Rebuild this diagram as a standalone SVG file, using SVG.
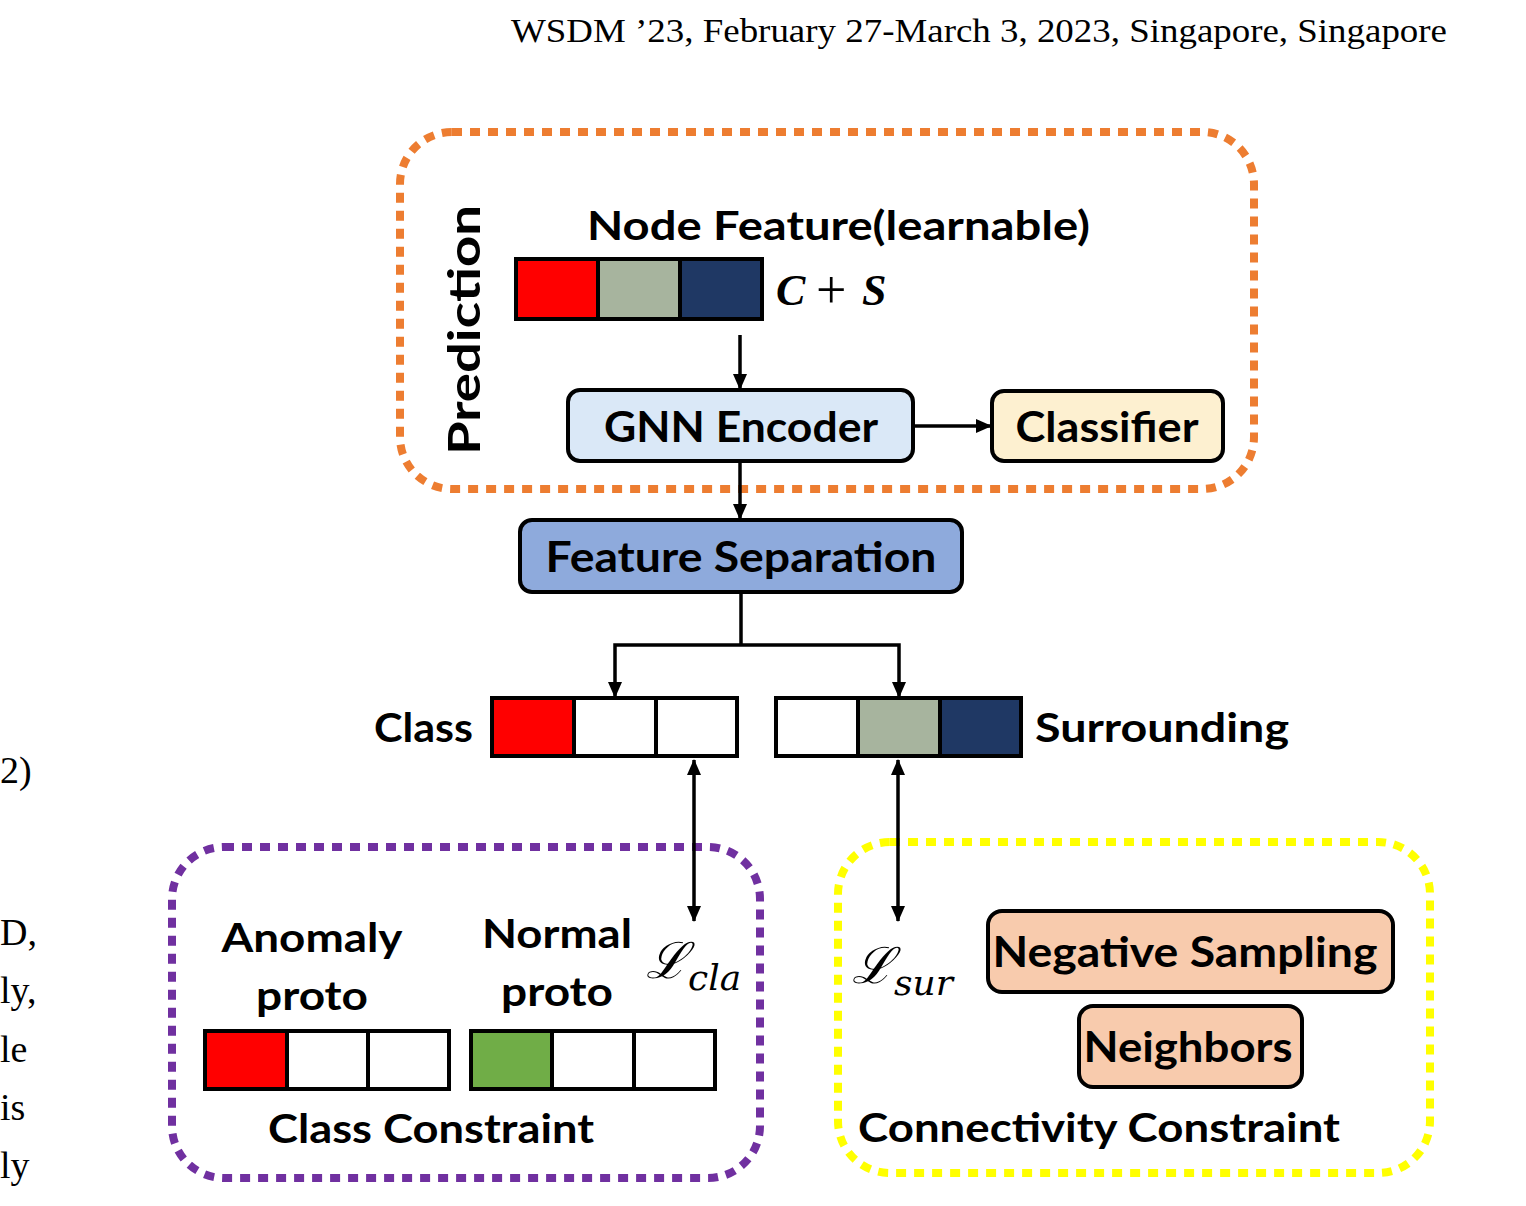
<svg xmlns="http://www.w3.org/2000/svg" width="1526" height="1206" viewBox="0 0 1526 1206">
<style>
.lbl{font-family:Lato,"Open Sans","Liberation Sans",sans-serif;font-weight:bold;font-size:40px;fill:#000}
.big{font-size:42px}
.page{font-family:"Liberation Serif","DejaVu Serif",serif;font-size:38px;fill:#000}
.math{font-family:"DejaVu Serif","Liberation Serif",serif;font-style:italic;fill:#000}
.cs{font-family:"Liberation Serif","DejaVu Serif",serif;font-size:44px;fill:#000}
.box{stroke:#000;stroke-width:4}
.cell{stroke:#000;stroke-width:4}
.conn{stroke:#000;stroke-width:3.5;fill:none}
.dot{fill:none;stroke-width:8;stroke-dasharray:10 8}
</style>
<defs>
<marker id="ah" markerWidth="16" markerHeight="14" refX="15" refY="7" orient="auto-start-reverse" markerUnits="userSpaceOnUse">
<path d="M0,0 L16,7 L0,14 Z" fill="#000"/>
</marker>
</defs>
<rect width="1526" height="1206" fill="#fff"/>

<g id="page-text">
<text class="page" x="511" y="42" style="font-size:33px" textLength="936" lengthAdjust="spacingAndGlyphs">WSDM ’23, February 27-March 3, 2023, Singapore, Singapore</text>
<text class="page" x="0" y="783">2)</text>
<text class="page" x="0" y="945">D,</text>
<text class="page" x="0" y="1003">ly,</text>
<text class="page" x="0" y="1062">le</text>
<text class="page" x="0" y="1120">is</text>
<text class="page" x="0" y="1178">ly</text>
</g>

<g id="prediction-group">
<rect class="dot" x="400" y="132" width="854" height="357" rx="52" stroke="#ed7d31"/>
<text class="lbl" style="font-size:44px" transform="translate(480,455) rotate(-90)" textLength="250" lengthAdjust="spacingAndGlyphs">Prediction</text>
</g>

<g id="node-feature">
<text class="lbl" x="587" y="240" textLength="503" lengthAdjust="spacingAndGlyphs">Node Feature(learnable)</text>
<rect class="cell" x="516" y="259" width="82" height="60" fill="#ff0000"/>
<rect class="cell" x="598" y="259" width="82" height="60" fill="#a7b49e"/>
<rect class="cell" x="680" y="259" width="82" height="60" fill="#1f3864"/>
<text class="cs" x="776" y="305" font-style="italic" font-weight="bold">C</text>
<text class="cs" x="816" y="308" style="font-size:54px">+</text>
<text class="cs" x="862" y="305" font-style="italic" font-weight="bold">S</text>
</g>

<g id="gnn-encoder">
<rect class="box" x="568" y="390" width="345" height="71" rx="12" fill="#dae8f7"/>
<text class="lbl big" x="741" y="442" text-anchor="middle" textLength="274" lengthAdjust="spacingAndGlyphs">GNN Encoder</text>
</g>

<g id="classifier">
<rect class="box" x="992" y="391" width="231" height="70" rx="12" fill="#fdf0d0"/>
<text class="lbl big" x="1107" y="442" text-anchor="middle" textLength="183" lengthAdjust="spacingAndGlyphs">Classifier</text>
</g>

<g id="feature-separation">
<rect class="box" x="520" y="520" width="442" height="72" rx="12" fill="#8eaadc"/>
<text class="lbl big" x="741" y="572" text-anchor="middle" textLength="391" lengthAdjust="spacingAndGlyphs">Feature Separation</text>
</g>

<g id="class-vector">
<text class="lbl" x="473" y="742" text-anchor="end" textLength="99" lengthAdjust="spacingAndGlyphs">Class</text>
<rect class="cell" x="492" y="698" width="82" height="58" fill="#ff0000"/>
<rect class="cell" x="574" y="698" width="82" height="58" fill="#fff"/>
<rect class="cell" x="656" y="698" width="81" height="58" fill="#fff"/>
</g>

<g id="surrounding-vector">
<rect class="cell" x="776" y="698" width="82" height="58" fill="#fff"/>
<rect class="cell" x="858" y="698" width="82" height="58" fill="#a7b49e"/>
<rect class="cell" x="940" y="698" width="81" height="58" fill="#1f3864"/>
<text class="lbl" x="1035" y="742" textLength="254" lengthAdjust="spacingAndGlyphs">Surrounding</text>
</g>

<g id="class-constraint">
<rect class="dot" x="172" y="847" width="588" height="331" rx="52" stroke="#7030a0"/>
<text class="lbl" x="312" y="952" text-anchor="middle" textLength="181" lengthAdjust="spacingAndGlyphs">Anomaly</text>
<text class="lbl" x="312" y="1010" text-anchor="middle" textLength="112" lengthAdjust="spacingAndGlyphs">proto</text>
<text class="lbl" x="557" y="948" text-anchor="middle" textLength="150" lengthAdjust="spacingAndGlyphs">Normal</text>
<text class="lbl" x="557" y="1006" text-anchor="middle" textLength="112" lengthAdjust="spacingAndGlyphs">proto</text>
<text class="math" x="646" y="978" font-size="50" font-style="normal">ℒ<tspan font-size="36" font-style="italic" dy="12">cla</tspan></text>
<rect class="cell" x="205" y="1031" width="82" height="58" fill="#ff0000"/>
<rect class="cell" x="287" y="1031" width="81" height="58" fill="#fff"/>
<rect class="cell" x="368" y="1031" width="81" height="58" fill="#fff"/>
<rect class="cell" x="471" y="1031" width="81" height="58" fill="#70ad47"/>
<rect class="cell" x="552" y="1031" width="82" height="58" fill="#fff"/>
<rect class="cell" x="634" y="1031" width="81" height="58" fill="#fff"/>
<text class="lbl" x="431" y="1143" text-anchor="middle" textLength="326" lengthAdjust="spacingAndGlyphs">Class Constraint</text>
</g>

<g id="connectivity-constraint">
<rect class="dot" x="838" y="842" width="592" height="331" rx="52" stroke="#ffff00"/>
<text class="math" x="852" y="983" font-size="50" font-style="normal">ℒ<tspan font-size="36" font-style="italic" dy="12">sur</tspan></text>
<text class="lbl" x="858" y="1142" textLength="482" lengthAdjust="spacingAndGlyphs">Connectivity Constraint</text>
</g>

<g id="negative-sampling">
<rect class="box" x="988" y="911" width="405" height="81" rx="14" fill="#f8cbad"/>
<text class="lbl big" x="1185" y="967" text-anchor="middle" textLength="385" lengthAdjust="spacingAndGlyphs">Negative Sampling</text>
</g>

<g id="neighbors">
<rect class="box" x="1079" y="1006" width="223" height="81" rx="14" fill="#f8cbad"/>
<text class="lbl big" x="1188" y="1062" text-anchor="middle" textLength="209" lengthAdjust="spacingAndGlyphs">Neighbors</text>
</g>

<g id="connectors">
<line class="conn" x1="740" y1="335" x2="740" y2="389" marker-end="url(#ah)"/>
<line class="conn" x1="913" y1="426" x2="991" y2="426" marker-end="url(#ah)"/>
<line class="conn" x1="740" y1="461" x2="740" y2="519" marker-end="url(#ah)"/>
<polyline class="conn" points="741,592 741,645"/>
<polyline class="conn" points="615,697 615,645 899,645 899,697" marker-start="url(#ah)" marker-end="url(#ah)"/>
<line class="conn" x1="694" y1="760" x2="694" y2="921" marker-start="url(#ah)" marker-end="url(#ah)"/>
<line class="conn" x1="898" y1="760" x2="898" y2="921" marker-start="url(#ah)" marker-end="url(#ah)"/>
</g>
</svg>
